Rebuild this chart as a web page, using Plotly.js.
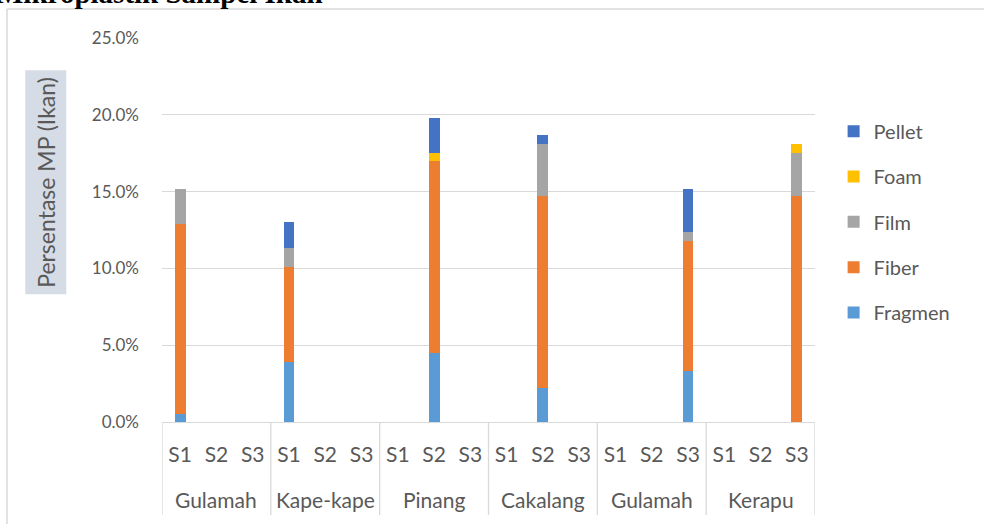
<!DOCTYPE html>
<html>
<head>
<meta charset="utf-8">
<script src="https://cdn.plot.ly/plotly-3.0.1.min.js"></script>
<style>
  html, body { margin: 0; padding: 0; background: #ffffff; }
  #chart { width: 984px; height: 524px; }
</style>
</head>
<body>
<div id="chart"></div>
<script>
// Fish species (outer category) and sampling stations (inner category)
const groups = ['Gulamah', 'Kape-kape', 'Pinang', 'Cakalang', 'Gulamah', 'Kerapu'];
const sites = ['S1', 'S2', 'S3'];

// Microplastic share by type (%), one value per species/station pair
const fragmen = [0.5, 0, 0,  3.9, 0, 0,  0, 4.5, 0,  0, 2.2, 0,  0, 0, 3.3,  0, 0, 0];
const fiber   = [12.4, 0, 0, 6.2, 0, 0,  0, 12.5, 0, 0, 12.5, 0, 0, 0, 8.5,  0, 0, 14.7];
const film    = [2.3, 0, 0,  1.2, 0, 0,  0, 0, 0,    0, 3.4, 0,  0, 0, 0.6,  0, 0, 2.8];
const foam    = [0, 0, 0,    0, 0, 0,    0, 0.5, 0,  0, 0, 0,    0, 0, 0,    0, 0, 0.6];
const pellet  = [0, 0, 0,    1.7, 0, 0,  0, 2.3, 0,  0, 0.6, 0,  0, 0, 2.8,  0, 0, 0];

// Stacked bottom to top in this order
const seriesNames = ['Fragmen', 'Fiber', 'Film', 'Foam', 'Pellet'];
const seriesValues = [fragmen, fiber, film, foam, pellet];
const seriesColors = ['#5B9BD5', '#ED7D31', '#A5A5A5', '#FFC000', '#4472C4'];

// Category positions along the axis: one slot per species/station pair
const xPos = [];
const xLabels = [];
groups.forEach((g, gi) => sites.forEach((s, si) => {
  xPos.push(gi * sites.length + si);
  xLabels.push(s);
}));

const textColor = '#595959';
const lineColor = '#D9D9D9';
const fontFamily = 'Lato, "Open Sans", sans-serif';

const traces = seriesNames.map((name, i) => ({
  type: 'bar',
  name: name,
  x: xPos,
  y: seriesValues[i],
  legendgroup: name,
  legendrank: seriesNames.length - i,   // top of the stack listed first
  marker: { color: seriesColors[i], line: { width: 0 } },
  hovertemplate: name + ': %{y:.1f}%<extra></extra>'
}));

// Vertical separators between species blocks under the axis
const nCats = groups.length * sites.length;
const shapes = [];
for (let g = 0; g <= groups.length; g++) {
  shapes.push({
    type: 'line', xref: 'x', yref: 'paper',
    x0: g * sites.length - 0.5, x1: g * sites.length - 0.5,
    y0: 0, y1: -0.242,
    line: { color: lineColor, width: 1.3 }
  });
}
// Outer frame of the chart object
shapes.push({
  type: 'line', xref: 'paper', yref: 'paper',
  x0: -0.2374, x1: 2, y0: 1.0755, y1: 1.0755,
  line: { color: lineColor, width: 1.5 }
});
shapes.push({
  type: 'line', xref: 'paper', yref: 'paper',
  x0: -0.2374, x1: -0.2374, y0: 1.0755, y1: -1,
  line: { color: lineColor, width: 1.5 }
});

// Species names below the station labels
const annotations = groups.map((g, gi) => ({
  xref: 'x', yref: 'paper',
  x: gi * sites.length + (sites.length - 1) / 2,
  y: -0.203, xanchor: 'center', yanchor: 'middle',
  text: g, showarrow: false,
  font: { family: fontFamily, size: 21, color: textColor }
}));

// Vertical axis title on a tinted panel
annotations.push({
  xref: 'paper', yref: 'paper',
  x: -0.1772, y: 0.6237, xanchor: 'center', yanchor: 'middle',
  text: 'Persentase MP (Ikan)', textangle: -90, showarrow: false,
  bgcolor: '#D6DCE5', borderpad: 6,
  font: { family: fontFamily, size: 23, color: textColor }
});

// Heading above the chart
annotations.push({
  xref: 'paper', yref: 'paper',
  x: -0.2573, y: 1.0703, xanchor: 'left', yanchor: 'bottom',
  text: '<b>Mikroplastik Sampel Ikan</b>', showarrow: false,
  font: { family: '"Liberation Serif", "Times New Roman", serif', size: 29, color: '#000000' }
});

const layout = {
  width: 984, height: 524,
  margin: { l: 162, r: 169, t: 38, b: 102 },
  paper_bgcolor: '#ffffff', plot_bgcolor: '#ffffff',
  barmode: 'stack', bargap: 0.7,
  font: { family: fontFamily, color: textColor },
  showlegend: true,
  legend: {
    x: 1.0285, xanchor: 'left', y: 0.808, yanchor: 'top',
    traceorder: 'grouped', tracegroupgap: 16.3,
    font: { family: fontFamily, size: 20, color: textColor },
    bgcolor: 'rgba(0,0,0,0)', borderwidth: 0
  },
  xaxis: {
    range: [-0.5, nCats - 0.5],
    tickmode: 'array', tickvals: xPos, ticktext: xLabels,
    ticks: '', showgrid: false, zeroline: false,
    showline: true, linecolor: lineColor, linewidth: 1.3,
    ticklabelstandoff: 14,
    tickfont: { family: fontFamily, size: 21, color: textColor },
    fixedrange: true
  },
  yaxis: {
    range: [0, 25], dtick: 5, tick0: 0,
    tickformat: '.1f', ticksuffix: '%',
    ticks: '', showgrid: true, gridcolor: lineColor, gridwidth: 1.3,
    zeroline: false, showline: false,
    ticklabelstandoff: 22,
    tickfont: { family: fontFamily, size: 17, color: textColor },
    fixedrange: true
  },
  shapes: shapes,
  annotations: annotations
};

Plotly.newPlot('chart', traces, layout, { displayModeBar: false, responsive: false });
</script>
</body>
</html>
